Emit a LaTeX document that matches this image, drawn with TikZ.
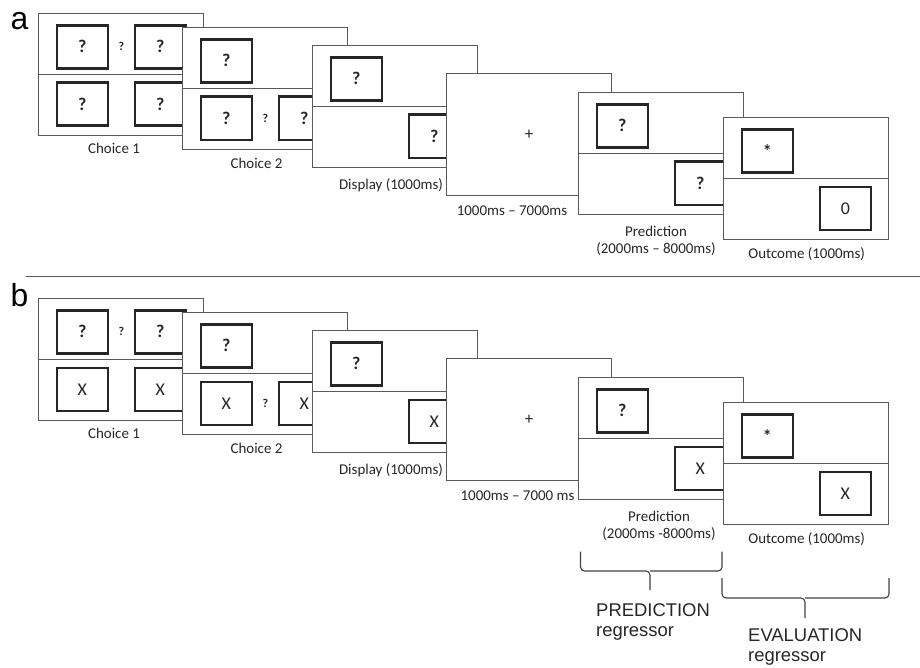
\documentclass[tikz,border=0pt]{standalone}
\usepackage{fontspec}
\setmainfont{Carlito}
\newfontfamily\arialfont{Liberation Sans}
\usetikzlibrary{positioning,calc}

\begin{document}
\begin{tikzpicture}
[x=1bp, y=-1bp,
    font=\fontsize{15}{17.5}\selectfont, text=black!85,
    screen/.style={draw=black!65, line width=1.2bp, fill=white,
    minimum width=165bp, minimum height=122bp, inner sep=0pt, anchor=north west},
    card/.style={draw=black!85, line width=2.6bp, fill=white,
    minimum width=51bp, minimum height=43bp, inner sep=0pt, anchor=north west,
    font=\bfseries\fontsize{18}{18}\selectfont, text=black!85},
    hint/.style={inner sep=0pt, font=\bfseries\fontsize{12}{12}\selectfont},
    caption/.style={inner sep=0pt, anchor=base, align=center},
    divide/.style={draw=black!65, line width=1.2bp},
    panel/.style={inner sep=0pt, anchor=base west,
    font=\arialfont\fontsize{32}{32}\selectfont, text=black},
    regressor/.style={inner sep=0pt, anchor=base west, align=left,
    font=\arialfont\fontsize{18.5}{20}\selectfont, text=black!85},
    bracket/.style={draw=black!75, line width=1.1bp, rounded corners=4bp},
    ]

\useasboundingbox (0,0) rectangle (920,668);

\foreach \p/\dy/\ly/\sym/\outsym/\fixtxt/\fixx/\predtxt/\predx in
    {a/0/30/?/{\mdseries 0}/{1000ms -- 7000ms}/512/{(2000ms -- 8000ms)}/656,
     b/285/306/{\mdseries X}/{\mdseries X}/{1000ms -- 7000 ms}/517.5/{(2000ms -8000ms)}/659}
{
    \node[panel] (\p lbl) at (10.5,\ly) {\p};

    % choice 1
    \node[screen] (\p1) at (38,13+\dy) {};
    \draw[divide] (\p1.west) -- (\p1.east);
    \node[card] (\p1tl) at ([shift={(17.5,11)}]\p1.north west) {?};
    \node[card] (\p1tr) at ([shift={(95.5,11)}]\p1.north west) {?};
    \node[card] (\p1bl) at ([shift={(17.5,68.5)}]\p1.north west) {\sym};
    \node[card] (\p1br) at ([shift={(95.5,68.5)}]\p1.north west) {\sym};
    \node[hint] (\p1q) at ($(\p1tl.east)!0.5!(\p1tr.west)$) {?};
    \node[caption] (\p1cap) at (114,153.3+\dy) {Choice 1};

    % choice 2
    \node[screen] (\p2) at (182,27+\dy) {};
    \draw[divide] (\p2.west) -- (\p2.east);
    \node[card] (\p2tl) at ([shift={(17.5,11)}]\p2.north west) {?};
    \node[card] (\p2bl) at ([shift={(17.5,68.5)}]\p2.north west) {\sym};
    \node[card] (\p2br) at ([shift={(95.5,68.5)}]\p2.north west) {\sym};
    \node[hint] (\p2q) at ($(\p2bl.east)!0.5!(\p2br.west)$) {?};
    \node[caption] (\p2cap) at (256.5,168.3+\dy) {Choice 2};

    % display
    \node[screen] (\p3) at (312,45+\dy) {};
    \draw[divide] (\p3.west) -- (\p3.east);
    \node[card] (\p3tl) at ([shift={(17.5,11)}]\p3.north west) {?};
    \node[card] (\p3br) at ([shift={(95.5,68.5)}]\p3.north west) {\sym};
    \node[caption] (\p3cap) at (391,189.3+\dy) {Display (1000ms)};

    % fixation
    \node[screen] (\p4) at (446,73+\dy) {};
    \node[font=\fontsize{17}{17}\selectfont] (\p4fix) at (\p4.center) {+};
    \node[caption] (\p4cap) at (\fixx,215.5+\dy) {\fixtxt};

    % prediction
    \node[screen] (\p5) at (578,92+\dy) {};
    \draw[divide] (\p5.west) -- (\p5.east);
    \node[card] (\p5tl) at ([shift={(17.5,11)}]\p5.north west) {?};
    \node[card] (\p5br) at ([shift={(95.5,68.5)}]\p5.north west) {\sym};
    \node[caption] (\p5cap) at (\predx,253.5+\dy) {Prediction\\\predtxt};

    % outcome
    \node[screen] (\p6) at (723,117+\dy) {};
    \draw[divide] (\p6.west) -- (\p6.east);
    \node[card] (\p6tl) at ([shift={(17.5,11)}]\p6.north west) {*};
    \node[card] (\p6br) at ([shift={(95.5,68.5)}]\p6.north west) {\outsym};
    \node[caption] (\p6cap) at (806.7,258+\dy) {Outcome (1000ms)};
}

% panel separator
\coordinate (sepl) at (26,276.5);
\coordinate (sepr) at (920,276.5);
\draw[divide] (sepl) -- (sepr);

% regressor brackets
\coordinate (predl) at (580.5,551.5);
\coordinate (predr) at (722,551.5);
\coordinate (predt) at (650,590);
\draw[bracket] (predl) |- ($(predt)+(0,-19)$) -- (predt);
\draw[bracket] (predr) |- ($(predt)+(0,-19)$);

\coordinate (evall) at (722,578);
\coordinate (evalr) at (889,578);
\coordinate (evalt) at (805,618);
\draw[bracket] (evall) |- ($(evalt)+(0,-20)$) -- (evalt);
\draw[bracket] (evalr) |- ($(evalt)+(0,-20)$);

\node[regressor] (predtxt) at (596,636) {PREDICTION\\regressor};
\node[regressor] (evaltxt) at (748,661.5) {EVALUATION\\regressor};

\end{tikzpicture}
\end{document}
